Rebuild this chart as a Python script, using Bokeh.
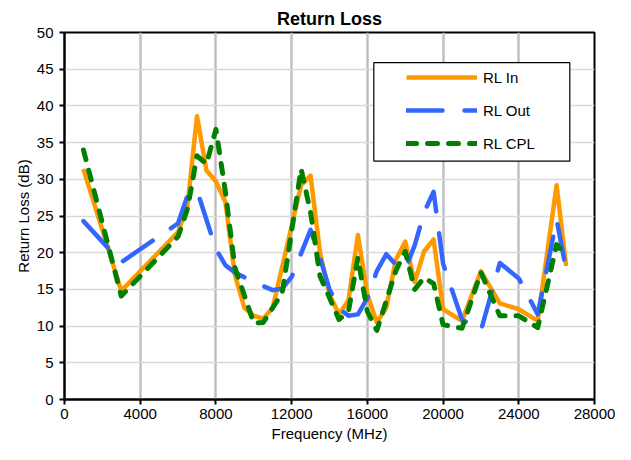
from bokeh.plotting import figure
from bokeh.models import FixedTicker, Legend, LegendItem, BoxAnnotation, Range1d
from bokeh.embed import file_html
from bokeh.resources import INLINE

# ---------------- data ----------------
f_in = [1000, 3000, 6000, 6500, 7000, 7500, 8000, 8500, 9000, 9500, 10000, 10500, 11000,
        12500, 13000, 13500, 14000, 14500, 15000, 15500, 16000, 16500, 17000, 17500, 18000,
        18500, 19000, 19500, 20000, 21000, 22000, 23000, 24000, 25000, 26000, 26500]
rl_in = [31.4, 14.8, 22.8, 26.5, 38.6, 31.2, 29.7, 26.9, 17.0, 12.5, 11.4, 11.0, 12.5,
         29.2, 30.5, 20.0, 14.3, 11.6, 13.5, 22.4, 14.3, 10.5, 12.5, 19.0, 21.5,
         16.0, 20.2, 21.8, 12.3, 10.7, 17.5, 13.1, 12.3, 10.7, 29.2, 18.2]

f_out = [1000, 3000, 6000, 6500, 7000, 8000, 8500, 9000, 10000, 11000, 11500, 12000, 13000,
         13500, 14000, 14500, 15000, 15500, 16000, 16500, 17000, 17500, 18000, 18500, 19000,
         19500, 20000, 21000, 22000, 23000, 24000, 25000, 26000, 26500]
rl_out = [24.3, 18.7, 24.0, 27.8, 28.5, 20.5, 18.3, 17.3, 16.0, 14.9, 15.1, 16.7, 23.1,
          19.3, 15.0, 12.4, 11.4, 11.6, 13.8, 17.5, 19.8, 18.4, 17.7, 21.0, 25.5,
          28.3, 18.5, 10.9, 9.4, 18.6, 16.5, 11.6, 24.5, 17.7]

f_cpl = [1000, 3000, 6000, 6500, 7000, 7500, 8000, 8500, 9000, 10000, 10500, 11500, 12500,
         13000, 13500, 14500, 15000, 15500, 16000, 16500, 17500, 18000, 18500, 19000, 19500,
         20000, 21000, 22000, 23000, 24000, 25000, 26000, 26500]
rl_cpl = [34.0, 14.1, 22.2, 26.0, 33.2, 32.1, 36.8, 28.3, 18.0, 10.4, 10.5, 14.5, 31.4,
          25.5, 16.8, 10.9, 12.0, 19.3, 12.0, 9.4, 17.5, 20.2, 15.0, 16.6, 15.8,
          10.2, 9.7, 17.3, 11.4, 11.4, 9.8, 21.1, 19.5]

series_labels = ["RL In", "RL Out", "RL CPL"]
x_ticks = [0, 4000, 8000, 12000, 16000, 20000, 24000, 28000]
y_ticks = [0, 5, 10, 15, 20, 25, 30, 35, 40, 45, 50]

FONT = "Liberation Sans"
X_MAX, Y_MAX = 28000, 50
W, H = 615, 444
B_LEFT, B_RIGHT, B_TOP, B_BOTTOM = 64, 21, 32, 44
FRAME_W = W - B_LEFT - B_RIGHT
FRAME_H = H - B_TOP - B_BOTTOM

p = figure(width=W, height=H,
           x_range=Range1d(0, X_MAX), y_range=Range1d(0, Y_MAX),
           output_backend="svg", toolbar_location=None,
           title="Return Loss",
           min_border_left=B_LEFT, min_border_right=B_RIGHT,
           min_border_top=B_TOP, min_border_bottom=B_BOTTOM)

p.title.align = "center"
p.title.text_font = FONT
p.title.text_font_size = "18px"
p.title.text_font_style = "bold"
p.title.text_color = "black"
p.title.standoff = 7

p.background_fill_color = "white"
p.border_fill_color = "white"
p.outline_line_color = "black"
p.outline_line_width = 2
p.outline_line_alpha = 1

p.xgrid.grid_line_color = "#C0C0C0"
p.xgrid.grid_line_width = 2.5
p.ygrid.grid_line_color = "#D9D9D9"
p.ygrid.grid_line_width = 1.5

p.xaxis.ticker = FixedTicker(ticks=x_ticks)
p.yaxis.ticker = FixedTicker(ticks=y_ticks)
p.xaxis.axis_label = "Frequency (MHz)"
p.yaxis.axis_label = "Return Loss (dB)"

for ax in (p.xaxis[0], p.yaxis[0]):
    ax.axis_line_color = "black"
    ax.axis_line_width = 2
    ax.major_tick_line_color = "black"
    ax.major_tick_line_width = 2
    ax.major_tick_in = 0
    ax.major_tick_out = 5
    ax.minor_tick_line_color = None
    ax.major_label_text_font = FONT
    ax.major_label_text_font_size = "15px"
    ax.major_label_text_color = "black"
    ax.axis_label_text_font = FONT
    ax.axis_label_text_font_size = "15px"
    ax.axis_label_text_font_style = "normal"
    ax.axis_label_text_color = "black"

p.xaxis.major_label_standoff = 4
p.xaxis.axis_label_standoff = 3
p.yaxis.major_label_standoff = 6
p.yaxis.axis_label_standoff = 2

r_in = p.line(f_in, rl_in, line_color="#FF9900", line_width=4.5, line_join="round")
r_out = p.line(f_out, rl_out, line_color="#3366FF", line_width=4.5,
               line_dash="36 22", line_cap="round", line_join="round")
r_cpl = p.line(f_cpl, rl_cpl, line_color="#008000", line_width=5,
               line_dash="10 11", line_cap="round", line_join="round")

# legend box (pixel offsets from frame left / top converted to data units)
box_l_px, box_r_px, box_t_px, box_b_px = 309.3, 505.3, 30.3, 129.0
box = BoxAnnotation(left=box_l_px / FRAME_W * X_MAX, right=box_r_px / FRAME_W * X_MAX,
                    top=Y_MAX - box_t_px / FRAME_H * Y_MAX,
                    bottom=Y_MAX - box_b_px / FRAME_H * Y_MAX,
                    fill_color="white", fill_alpha=1,
                    line_color="black", line_width=1.2, line_alpha=1)
p.add_layout(box)

leg_h = 6 + 20 * 3 + 13 * 2 + 6
legend = Legend(items=[LegendItem(label=series_labels[0], renderers=[r_in]),
                       LegendItem(label=series_labels[1], renderers=[r_out]),
                       LegendItem(label=series_labels[2], renderers=[r_cpl])],
                location=(336, FRAME_H - 30.3 - leg_h), orientation="vertical",
                glyph_width=71, glyph_height=20, label_height=20,
                spacing=13, padding=6, label_standoff=6, margin=0,
                border_line_alpha=0, background_fill_alpha=0,
                label_text_font=FONT, label_text_font_size="15px",
                label_text_color="black")
p.add_layout(legend)

open("out.html", "w").write(file_html(p, INLINE))
